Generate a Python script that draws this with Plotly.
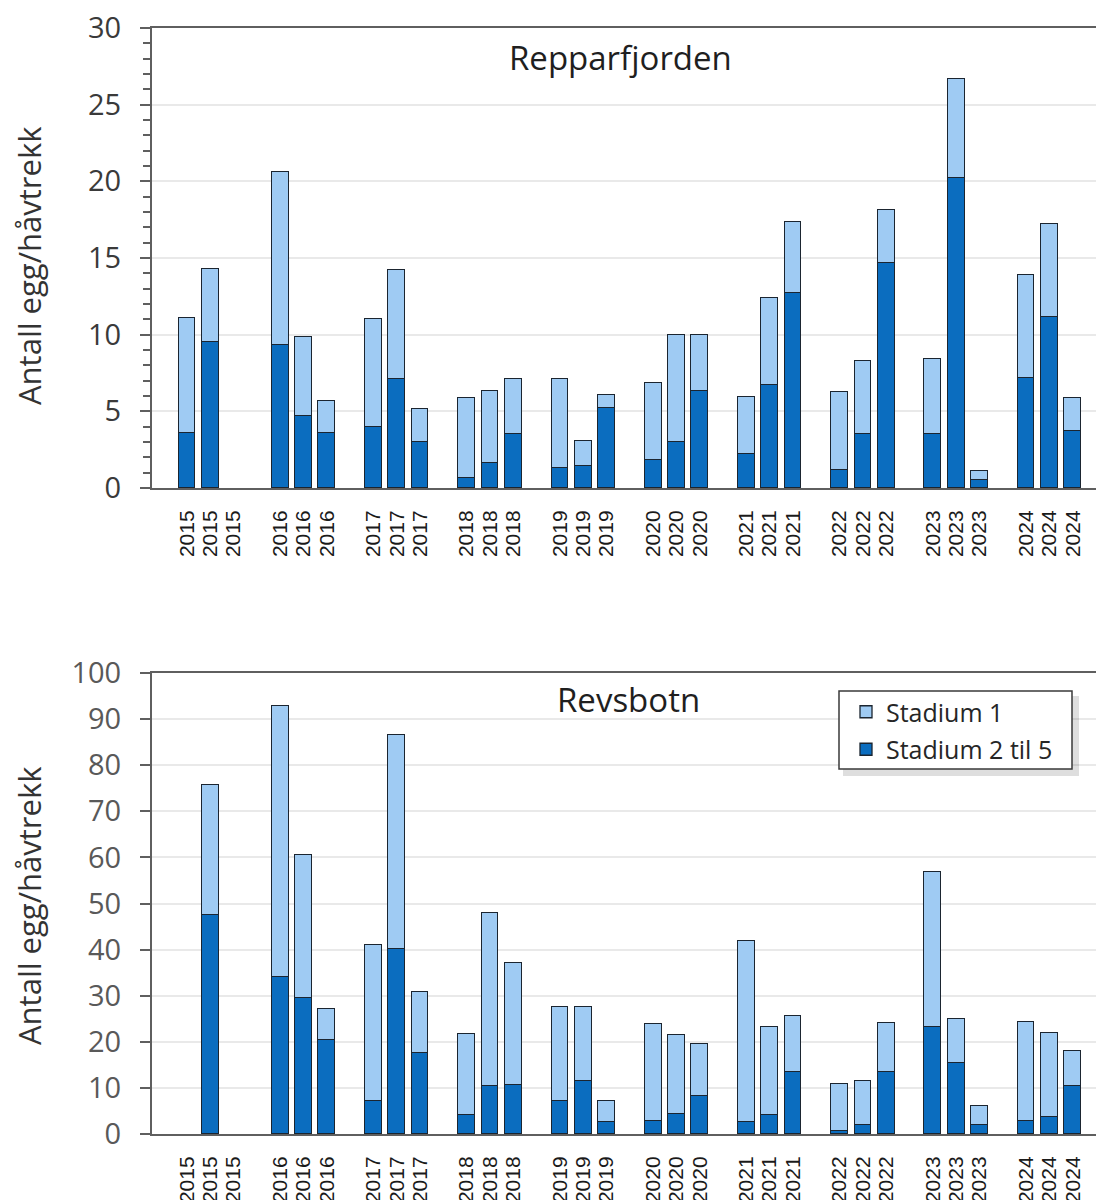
import plotly.graph_objects as go

# ---------------- data ----------------
years = ["2015", "2016", "2017", "2018", "2019", "2020", "2021", "2022", "2023", "2024"]
samples_per_year = 3

# Repparfjorden (three samples per year)
rep_stadium_2_5 = [3.6, 9.5, None,
                   9.3, 4.7, 3.6,
                   4.0, 7.1, 3.0,
                   0.65, 1.6, 3.5,
                   1.3, 1.45, 5.2,
                   1.8, 3.0, 6.35,
                   2.2, 6.75, 12.7,
                   1.2, 3.5, 14.7,
                   3.5, 20.2, 0.55,
                   7.15, 11.15, 3.75]
rep_stadium_1 = [7.5, 4.8, None,
                 11.3, 5.15, 2.05,
                 7.0, 7.1, 2.15,
                 5.2, 4.75, 3.6,
                 5.8, 1.6, 0.85,
                 5.05, 7.0, 3.65,
                 3.75, 5.65, 4.65,
                 5.05, 4.8, 3.45,
                 4.9, 6.5, 0.55,
                 6.75, 6.05, 2.1]

# Revsbotn
rev_stadium_2_5 = [None, 47.4, None,
                   34.0, 29.6, 20.3,
                   7.2, 40.2, 17.6,
                   4.2, 10.4, 10.7,
                   7.2, 11.4, 2.5,
                   2.9, 4.4, 8.2,
                   2.5, 4.2, 13.4,
                   0.7, 2.0, 13.4,
                   23.3, 15.4, 2.0,
                   2.9, 3.6, 10.5]
rev_stadium_1 = [None, 28.2, None,
                 58.8, 30.9, 6.9,
                 33.8, 46.4, 13.3,
                 17.4, 37.5, 26.4,
                 20.3, 16.1, 4.6,
                 21.0, 17.1, 11.3,
                 39.4, 19.0, 12.1,
                 10.1, 9.4, 10.7,
                 33.5, 9.5, 4.0,
                 21.5, 18.3, 7.6]

# one empty slot between year groups (as in the original spreadsheet)
x_pos = [yi * (samples_per_year + 1) + k + 1 for yi in range(len(years)) for k in range(samples_per_year)]
x_labels = [y for y in years for _ in range(samples_per_year)]

LIGHT = "#9FCBF3"
DARK = "#0B6DBF"
EDGE = "#1B2530"

W, H = 1096, 1200
ML, MR, MT, MB = 152, 0, 28, 66
PH = H - MT - MB
PW = W - ML - MR

def py(ypix):
    return (H - MB - ypix) / PH

def px(xpix):
    return (xpix - ML) / PW

fig = go.Figure()

def add_pair(dark, light, xa, ya, show):
    fig.add_trace(go.Bar(x=x_pos, y=dark, name="Stadium 2 til 5",
                         marker=dict(color=DARK, line=dict(color=EDGE, width=1.3)),
                         width=0.72, xaxis=xa, yaxis=ya, showlegend=show,
                         legendrank=2, legendgroup="s25"))
    fig.add_trace(go.Bar(x=x_pos, y=light, name="Stadium 1",
                         marker=dict(color=LIGHT, line=dict(color=EDGE, width=1.3)),
                         width=0.72, xaxis=xa, yaxis=ya, showlegend=show,
                         legendrank=1, legendgroup="s1"))

add_pair(rep_stadium_2_5, rep_stadium_1, "x", "y", False)
add_pair(rev_stadium_2_5, rev_stadium_1, "x2", "y2", True)

tickfont_x = dict(family="Liberation Sans", size=21, color="#1a1a1a")
AXC = "#5f5f5f"

xcommon = dict(range=[-0.5, 40], tickmode="array", tickvals=x_pos, ticktext=x_labels, tickangle=-90,
               tickfont=tickfont_x, ticks="", showgrid=False, showline=True, mirror=True,
               linecolor=AXC, linewidth=2, zeroline=False, automargin=False, ticklabelstandoff=12)

top_domain = [py(488), 1.0]
bot_domain = [0.0, py(673)]

fig.update_layout(
    width=W, height=H,
    margin=dict(l=ML, r=MR, t=MT, b=MB),
    paper_bgcolor="white", plot_bgcolor="white",
    barmode="stack", bargap=0,
    font=dict(family="Open Sans", color="#262626"),
    xaxis=dict(anchor="y", domain=[0, 1], **xcommon),
    xaxis2=dict(anchor="y2", domain=[0, 1], **xcommon),
    yaxis=dict(anchor="x", domain=top_domain, range=[0, 30], dtick=5, tick0=0,
               ticks="outside", ticklen=10, tickwidth=2, tickcolor=AXC,
               minor=dict(dtick=1, ticks="outside", ticklen=7, tickwidth=1.5, tickcolor=AXC, showgrid=False),
               showgrid=True, gridcolor="#e9e9e9", gridwidth=1.5,
               showline=True, linecolor=AXC, linewidth=2, zeroline=False,
               tickfont=dict(family="Open Sans", size=29, color="#3a3a3a"),
               automargin=False, ticklabelstandoff=13),
    yaxis2=dict(anchor="x2", domain=bot_domain, range=[0, 100], dtick=10, tick0=0,
                ticks="outside", ticklen=10, tickwidth=2, tickcolor=AXC,
                showgrid=True, gridcolor="#e9e9e9", gridwidth=1.5,
                showline=True, linecolor=AXC, linewidth=2, zeroline=False,
                tickfont=dict(family="Open Sans", size=29, color="#595959"),
                automargin=False, ticklabelstandoff=13),
    legend=dict(x=px(846), y=py(689), xanchor="left", yanchor="top",
                bgcolor="rgba(0,0,0,0)", borderwidth=0,
                font=dict(family="Open Sans", size=25, color="#262626"),
                traceorder="grouped", tracegroupgap=2, itemwidth=30),
    showlegend=True,
)

# legend frame with drop shadow
fig.add_shape(type="rect", xref="paper", yref="paper",
              x0=px(843), x1=px(1079), y0=py(776), y1=py(696),
              fillcolor="rgba(0,0,0,0.13)", line=dict(width=0), layer="above")
fig.add_shape(type="rect", xref="paper", yref="paper",
              x0=px(839), x1=px(1072), y0=py(769), y1=py(691),
              fillcolor="white", line=dict(color="#3a3a3a", width=1.5), layer="above")

# panel titles
fig.add_annotation(text="Repparfjorden", xref="paper", yref="paper", x=px(620), y=py(57),
                   showarrow=False, font=dict(family="Open Sans", size=33, color="#1f1f1f"),
                   xanchor="center", yanchor="middle")
fig.add_annotation(text="Revsbotn", xref="paper", yref="paper", x=px(628), y=py(699),
                   showarrow=False, font=dict(family="Open Sans", size=33, color="#1f1f1f"),
                   xanchor="center", yanchor="middle")

# y axis titles
for yc in (265, 905):
    fig.add_annotation(text="Antall egg/håvtrekk", xref="paper", yref="paper", x=px(29), y=py(yc),
                       showarrow=False, textangle=-90,
                       font=dict(family="Open Sans", size=31, color="#333333"),
                       xanchor="center", yanchor="middle")

fig.write_html("out.html")
